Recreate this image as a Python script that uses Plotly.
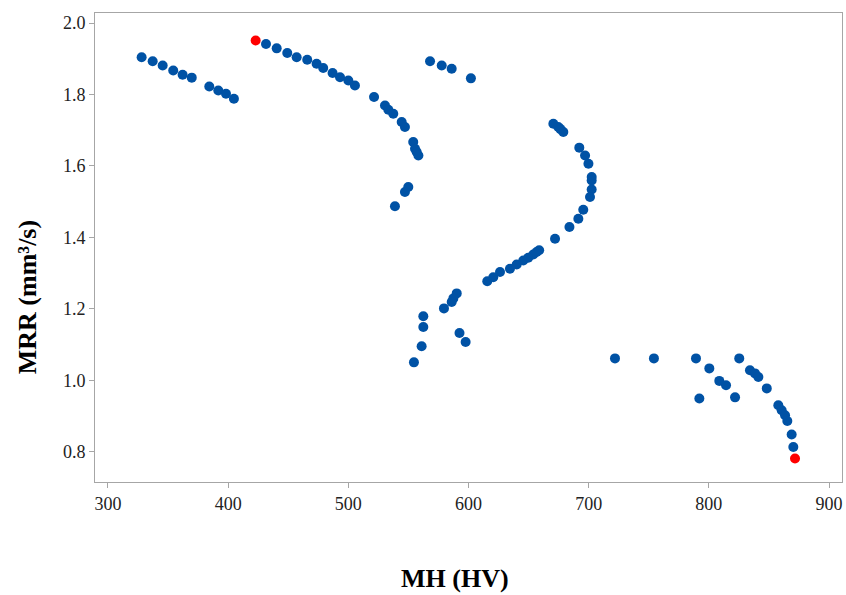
import plotly.graph_objects as go

# Blue points (MH in HV, MRR in mm^3/s)
mh = [328.0, 337.2, 345.5, 354.3, 362.1, 369.7, 384.3, 391.8, 398.2, 404.8,
      431.5, 440.4, 449.2, 457.0, 465.8, 473.6, 479.1, 486.9, 493.1, 500.0, 505.5,
      521.4, 530.5, 533.3, 537.4, 544.4, 547.1, 554.0, 555.5, 556.9, 558.3,
      549.9, 547.1, 538.8,
      568.0, 577.7, 586.0, 602.0,
      670.6, 674.7, 676.5, 678.9, 692.2, 697.0, 699.8, 702.5, 702.5, 702.5, 701.1,
      695.5, 691.4, 684.0, 672.0, 658.8, 656.7, 653.9, 649.7, 645.6, 640.1, 634.5,
      626.2, 620.6, 615.6,
      590.2, 587.4, 586.0, 579.6, 562.4, 562.4, 561.0, 554.6, 592.5, 597.6,
      721.9, 754.3, 789.3, 800.4, 808.7, 814.3, 792.1, 821.8, 825.3, 834.2, 838.4,
      841.2, 848.2, 857.8, 860.6, 863.4, 865.3, 868.9, 870.3]
mrr = [1.904, 1.893, 1.881, 1.867, 1.855, 1.847, 1.822, 1.811, 1.802, 1.788,
       1.941, 1.929, 1.916, 1.904, 1.897, 1.886, 1.874, 1.860, 1.848, 1.839, 1.825,
       1.793, 1.769, 1.757, 1.746, 1.723, 1.709, 1.667, 1.648, 1.639, 1.629,
       1.541, 1.527, 1.487,
       1.893, 1.881, 1.872, 1.845,
       1.718, 1.709, 1.703, 1.695, 1.651, 1.629, 1.606, 1.569, 1.559, 1.534, 1.513,
       1.477, 1.452, 1.429, 1.396, 1.364, 1.359, 1.352, 1.343, 1.335, 1.324, 1.312,
       1.303, 1.288, 1.277,
       1.243, 1.229, 1.219, 1.201, 1.179, 1.149, 1.095, 1.050, 1.132, 1.107,
       1.061, 1.061, 1.061, 1.033, 0.998, 0.986, 0.949, 0.952, 1.061, 1.028, 1.019,
       1.009, 0.977, 0.930, 0.916, 0.902, 0.886, 0.848, 0.813]

# Red (extreme) points
mh_red = [422.9, 871.7]
mrr_red = [1.951, 0.781]

x_ticks = [300, 400, 500, 600, 700, 800, 900]
y_ticks = [0.8, 1.0, 1.2, 1.4, 1.6, 1.8, 2.0]

fig = go.Figure()
fig.add_trace(go.Scatter(x=mh, y=mrr, mode="markers",
                         marker=dict(color="#0052a5", size=10, line=dict(width=0)),
                         showlegend=False))
fig.add_trace(go.Scatter(x=mh_red, y=mrr_red, mode="markers",
                         marker=dict(color="#ff0000", size=10, line=dict(width=0)),
                         showlegend=False))

axis_font = dict(family="Liberation Serif", size=18, color="#222222")
fig.update_layout(
    width=846, height=595,
    margin=dict(l=95, r=4, t=13, b=113),
    plot_bgcolor="white", paper_bgcolor="white",
    xaxis=dict(range=[289.2, 910.8], tickvals=x_ticks, showgrid=False, zeroline=False,
               showline=True, mirror=True, linecolor="#a6a6a6", linewidth=1,
               ticks="outside", ticklen=5, tickcolor="#a6a6a6", tickfont=axis_font),
    yaxis=dict(range=[0.715, 2.028], tickvals=y_ticks, tickformat=".1f", showgrid=False,
               zeroline=False, showline=True, mirror=True, linecolor="#a6a6a6", linewidth=1,
               ticks="outside", ticklen=5, tickcolor="#a6a6a6", tickfont=axis_font),
    annotations=[
        dict(text="<b>MH (HV)</b>", xref="paper", yref="paper", x=0.482, y=-0.205,
             xanchor="center", yanchor="middle", showarrow=False,
             font=dict(family="Liberation Serif", size=26, color="#000000")),
        dict(text="<b>MRR (mm³/s)</b>", xref="paper", yref="paper", x=-0.091, y=0.394,
             xanchor="center", yanchor="middle", showarrow=False, textangle=-90,
             font=dict(family="Liberation Serif", size=26, color="#000000")),
    ],
)

fig.write_html("out.html")
